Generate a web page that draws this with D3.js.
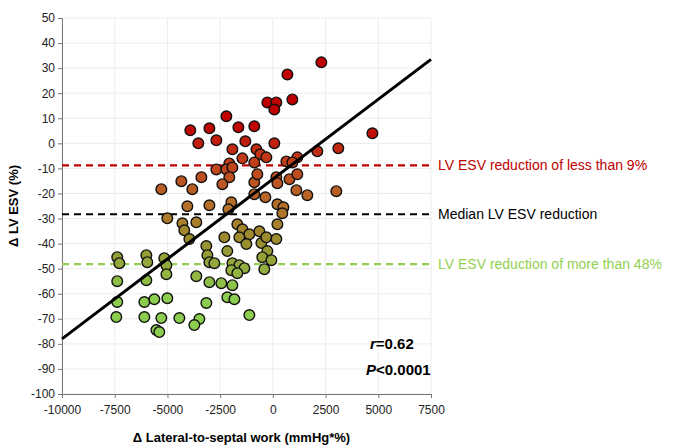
<!DOCTYPE html>
<html><head><meta charset="utf-8">
<script src="https://cdnjs.cloudflare.com/ajax/libs/d3/7.8.5/d3.min.js"></script>
<style>body{margin:0;background:#fff;font-family:"Liberation Sans",Arial,sans-serif}</style>
</head><body>
<svg id="c" width="697" height="448"></svg>
<script>
// patient values: change in lateral-to-septal work vs change in LV ESV
const workChange = [2300,690,925,-260,165,70,-2205,-3915,-3010,-1635,-880,4720,-3535,-2680,-1305,70,
  -1920,-780,-595,-310,-1445,-2065,-880,640,1160,925,2110,3105,-2680,-2205,-1920,-2065,-3390,-4340,
  -5290,-3820,-2395,-880,-735,165,215,785,1160,1115,1635,3010,-880,-355,-4055,-3010,-1970,-2110,215,
  500,450,-5005,-4290,-3630,-4200,-3960,-1685,-1445,-1115,-640,215,-2300,-1590,-1255,-545,-310,165,
  -3155,-2160,-260,-6000,-5955,-5150,-5050,-3105,-3010,-2775,-500,-70,-1920,-1590,-1350,-1970,-1685,
  -405,-5050,-6000,-3630,-3010,-2445,-1920,-6095,-5620,-5005,-3155,-2160,-1825,-6095,-5290,-4435,
  -3485,-3725,-1115,-5525,-5385,-7380,-7280,-7380,-7380,-7425];
const esvChange = [32.3,27.5,17.5,16.3,16.3,13.5,10.8,5.2,6.0,6.4,6.8,4.0,0,1.2,0.8,0,
  -2.4,-2.4,-4.4,-5.6,-6.0,-8.0,-7.6,-7.2,-5.6,-7.6,-3.2,-2.0,-10.4,-10.4,-9.6,-13.5,-13.5,-15.1,
  -18.3,-18.3,-16.3,-15.5,-12.3,-13.5,-15.9,-14.3,-12.3,-18.7,-20.7,-19.1,-20.3,-21.5,-25.1,-24.7,-23.5,-26.3,-24.3,
  -25.5,-27.9,-29.9,-31.9,-31.5,-34.7,-38.2,-32.3,-34.3,-36.3,-35.1,-32.3,-37.5,-37.5,-40.2,-39.8,-37.5,-38.2,
  -41.0,-43.0,-43.0,-44.6,-47.4,-45.8,-48.6,-44.6,-47.4,-47.8,-45.4,-46.6,-47.8,-48.6,-49.8,-50.6,-51.8,
  -50.2,-52.2,-54.6,-53.0,-55.4,-55.8,-56.6,-63.3,-62.2,-61.8,-63.7,-61.4,-62.2,-69.3,-69.7,-69.7,
  -70.1,-72.5,-68.5,-74.5,-75.3,-45.4,-47.8,-55.0,-63.3,-69.3];
const fitLine = [[-10000,-78],[7500,33.5]];
const refLines = [
  {y:-8.8, color:"#c00000", label:"LV ESV reduction of less than 9%"},
  {y:-28.3, color:"#000000", label:"Median LV ESV reduction"},
  {y:-48.2, color:"#92d050", label:"LV ESV reduction of more than 48%"}];
const xTicks = d3.range(-10000, 7501, 2500);
const yTicks = d3.range(-100, 51, 10);

const svg = d3.select("#c");
const m = {l:62, t:18, w:369, h:376};
const x = d3.scaleLinear().domain([-10000,7500]).range([m.l, m.l+m.w]);
const y = d3.scaleLinear().domain([-100,50]).range([m.t+m.h, m.t]);
const col = d3.scaleLinear().domain([8,-8,-25,-40,-60])
  .range(["#c00000","#c0401a","#b5702a","#98902e","#8ccc4e"]).clamp(true);
const fmt = d => String(d);

// grid
svg.append("g").selectAll("line").data(yTicks).join("line")
  .attr("x1", m.l).attr("x2", m.l+m.w).attr("y1", d=>y(d)).attr("y2", d=>y(d))
  .attr("stroke", "#ececec");
svg.append("g").selectAll("line").data(xTicks).join("line")
  .attr("y1", m.t).attr("y2", m.t+m.h).attr("x1", d=>x(d)).attr("x2", d=>x(d))
  .attr("stroke", "#ececec");

// axes
const ya = svg.append("g").attr("transform", `translate(${m.l},0)`)
  .call(d3.axisLeft(y).tickValues(yTicks).tickSize(4).tickFormat(fmt));
const xa = svg.append("g").attr("transform", `translate(0,${m.t+m.h})`)
  .call(d3.axisBottom(x).tickValues(xTicks).tickSize(4).tickFormat(fmt));
[ya, xa].forEach(a => {
  a.selectAll("path,line").attr("stroke", "#777");
  a.selectAll("text").attr("font-size", 12).attr("fill", "#222").attr("font-family", "Liberation Sans, Arial");
});
xa.selectAll("text").attr("dy", "1.1em");

// reference lines
refLines.forEach(r => {
  svg.append("line").attr("x1", m.l).attr("x2", m.l+m.w).attr("y1", y(r.y)).attr("y2", y(r.y))
    .attr("stroke", r.color).attr("stroke-width", 2.2).attr("stroke-dasharray", "7,5");
  svg.append("text").attr("x", 438).attr("y", y(r.y)+5).attr("fill", r.color)
    .attr("font-size", 14).text(r.label);
});

// points
svg.append("g").selectAll("circle").data(workChange.map((w,i)=>[w, esvChange[i]])).join("circle")
  .attr("cx", d=>x(d[0])).attr("cy", d=>y(d[1])).attr("r", 5.3)
  .attr("fill", d=>col(d[1])).attr("stroke", "#111").attr("stroke-width", 1.4);

// regression line
svg.append("line").attr("x1", x(fitLine[0][0])).attr("y1", y(fitLine[0][1]))
  .attr("x2", x(fitLine[1][0])).attr("y2", y(fitLine[1][1]))
  .attr("stroke", "#000").attr("stroke-width", 3);

// stats box
const st = svg.append("text").attr("x", 370).attr("y", 349).attr("font-size", 15).attr("font-weight", "bold");
st.append("tspan").attr("font-style", "italic").text("r");
st.append("tspan").text("=0.62");
const st2 = svg.append("text").attr("x", 366).attr("y", 375).attr("font-size", 15).attr("font-weight", "bold");
st2.append("tspan").attr("font-style", "italic").text("P");
st2.append("tspan").text("<0.0001");

// titles
svg.append("text").attr("x", m.l+m.w/2-5).attr("y", 442).attr("text-anchor", "middle")
  .attr("font-size", 13).attr("font-weight", "bold").text("Δ Lateral-to-septal work (mmHg*%)");
svg.append("text").attr("transform", `translate(18,${m.t+m.h/2}) rotate(-90)`).attr("text-anchor", "middle")
  .attr("font-size", 13).attr("font-weight", "bold").text("Δ LV ESV (%)");
</script>
</body></html>
